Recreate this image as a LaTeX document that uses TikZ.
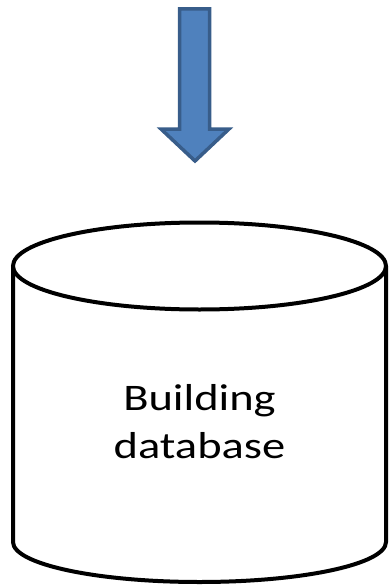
\documentclass[tikz,border=0pt]{standalone}
\usepackage{fontspec}
\newfontfamily\labelfont[FakeStretch=1.24]{Carlito}
\definecolor{arrowfill}{HTML}{4F81BD}
\definecolor{arrowline}{HTML}{385D8A}
\begin{document}
\begin{tikzpicture}[x=1pt,y=-1pt,
  blockarrow/.style={fill=arrowfill,draw=arrowline,line width=3.5pt,line join=miter},
  dbline/.style={draw=black,line width=4pt},
  dblabel/.style={font=\labelfont\fontsize{37.5}{48}\selectfont,align=center,text=black}]
\useasboundingbox (0,0) rectangle (388,586);
% down arrow
\path[blockarrow] (179.5,9) -- (209.5,9) -- (209.5,129) -- (229,129) -- (195,161) -- (161,129) -- (179.5,129) -- cycle;
% cylinder
\coordinate (tl) at (13,266);
\coordinate (tr) at (386,266);
\coordinate (bl) at (13,542);
\coordinate (br) at (386,542);
\draw[dbline,fill=white] (tl) -- (bl) arc[start angle=180,end angle=0,x radius=186.5,y radius=40] -- (tr);
\draw[dbline,fill=white] (199.5,266) ellipse[x radius=186.5,y radius=43.5];
\node[dblabel,anchor=base] (db) at (199.5,410) {Building};
\node[dblabel,anchor=base] (db2) at (199.5,458) {database};
\end{tikzpicture}
\end{document}
